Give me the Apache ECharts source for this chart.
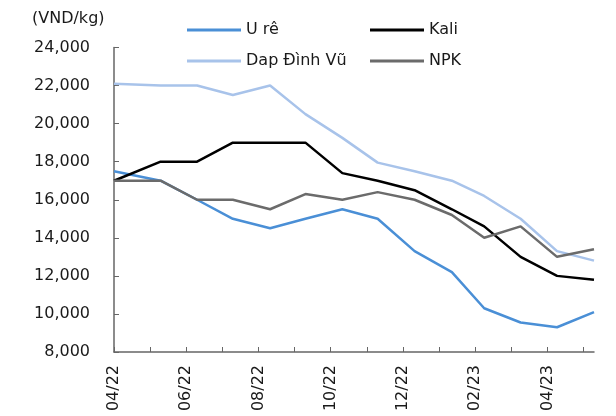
<!DOCTYPE html>
<html>
<head>
<meta charset="utf-8">
<script src="https://cdn.jsdelivr.net/npm/echarts@6/dist/echarts.min.js"></script>
<style>
  html, body { margin: 0; padding: 0; background: #fff; }
  #chart { width: 616px; height: 416px; }
</style>
</head>
<body>
<div id="chart"></div>
<script>
// ngày lấy mẫu (x), ticks theo tháng
var obsDates = ['2022-04-01', '2022-05-10', '2022-06-10', '2022-07-10', '2022-08-11', '2022-09-10',
  '2022-10-11', '2022-11-10', '2022-12-11', '2023-01-12', '2023-02-08', '2023-03-09',
  '2023-04-09', '2023-05-10']
var monthLabels = ['04/22', '05/22', '06/22', '07/22', '08/22', '09/22', '10/22',
  '11/22', '12/22', '01/23', '02/23', '03/23', '04/23', '05/23']

var seriesNames = ['U rê', 'Kali', 'Dap Đình Vũ', 'NPK']
var urea = [17500, 17000, 16000, 15000, 14500, 15000, 15500, 15000, 13300, 12200, 10300, 9550, 9300, 10100]
var kali = [17000, 18000, 18000, 19000, 19000, 19000, 17400, 17000, 16500, 15500, 14600, 13000, 12000, 11800]
var dap = [22100, 22000, 22000, 21500, 22000, 20500, 19250, 17950, 17500, 17000, 16200, 15000, 13300, 12800]
var npk = [17000, 17000, 16000, 16000, 15500, 16300, 16000, 16400, 16000, 15200, 14000, 14600, 13000, 13400]

var FONT = 'DejaVu Sans'
var colors = ['#4a8fd6', '#000000', '#a8c3ea', '#6b6b6b']

// đổi ngày -> vị trí tháng (tính từ 04/2022)
function monthPos(s) {
  var p = s.split('-').map(Number)
  var days = new Date(p[0], p[1], 0).getDate()
  return (p[0] - 2022) * 12 + (p[1] - 4) + (p[2] - 1) / days
}
var xs = obsDates.map(monthPos)

function pairs(vals) {
  return vals.map(function (v, i) { return [xs[i], v] })
}

var chart = echarts.init(document.getElementById('chart'))

function legendAt(name, left, top) {
  return {
    data: [name],
    left: left,
    top: top,
    padding: 0,
    icon: 'rect',
    itemWidth: 54,
    itemHeight: 3,
    selectedMode: false,
    textStyle: { fontFamily: FONT, fontSize: 16, color: '#1a1a1a' }
  }
}

var option = {
  animation: false,
  title: {
    text: '(VND/kg)',
    left: 32,
    top: 11,
    padding: 0,
    textStyle: { fontFamily: FONT, fontSize: 16, fontWeight: 'normal', color: '#1a1a1a' }
  },
  legend: [
    legendAt(seriesNames[0], 187, 22),
    legendAt(seriesNames[1], 370, 22),
    legendAt(seriesNames[2], 187, 53),
    legendAt(seriesNames[3], 370, 53)
  ],
  grid: { left: 114, right: 22, top: 47.5, bottom: 64 },
  xAxis: {
    type: 'value',
    min: 0,
    max: 'dataMax',
    splitLine: { show: false },
    axisLine: { lineStyle: { color: '#666', width: 1.5 } },
    axisTick: {
      inside: true,
      length: 5,
      customValues: monthLabels.map(function (l, i) { return i }),
      lineStyle: { color: '#666' }
    },
    axisLabel: {
      customValues: monthLabels.map(function (l, i) { return i }).filter(function (i) { return i % 2 === 0 }),
      formatter: function (v) { return monthLabels[v] },
      rotate: 90,
      margin: 13,
      fontFamily: FONT,
      fontSize: 16,
      color: '#1a1a1a'
    }
  },
  yAxis: {
    type: 'value',
    min: 8000,
    max: 24000,
    interval: 2000,
    splitLine: { show: false },
    axisLine: { show: true, lineStyle: { color: '#666', width: 1.5 } },
    axisTick: { show: true, inside: true, length: 5, lineStyle: { color: '#666' } },
    axisLabel: {
      margin: 24,
      fontFamily: FONT,
      fontSize: 16,
      color: '#1a1a1a',
      formatter: function (v) { return v.toLocaleString('en-US') }
    }
  },
  series: [urea, kali, dap, npk].map(function (vals, i) {
    return {
      name: seriesNames[i],
      type: 'line',
      data: pairs(vals),
      symbol: 'none',
      color: colors[i],
      lineStyle: { color: colors[i], width: 2.5 }
    }
  })
}

chart.setOption(option)
</script>
</body>
</html>
